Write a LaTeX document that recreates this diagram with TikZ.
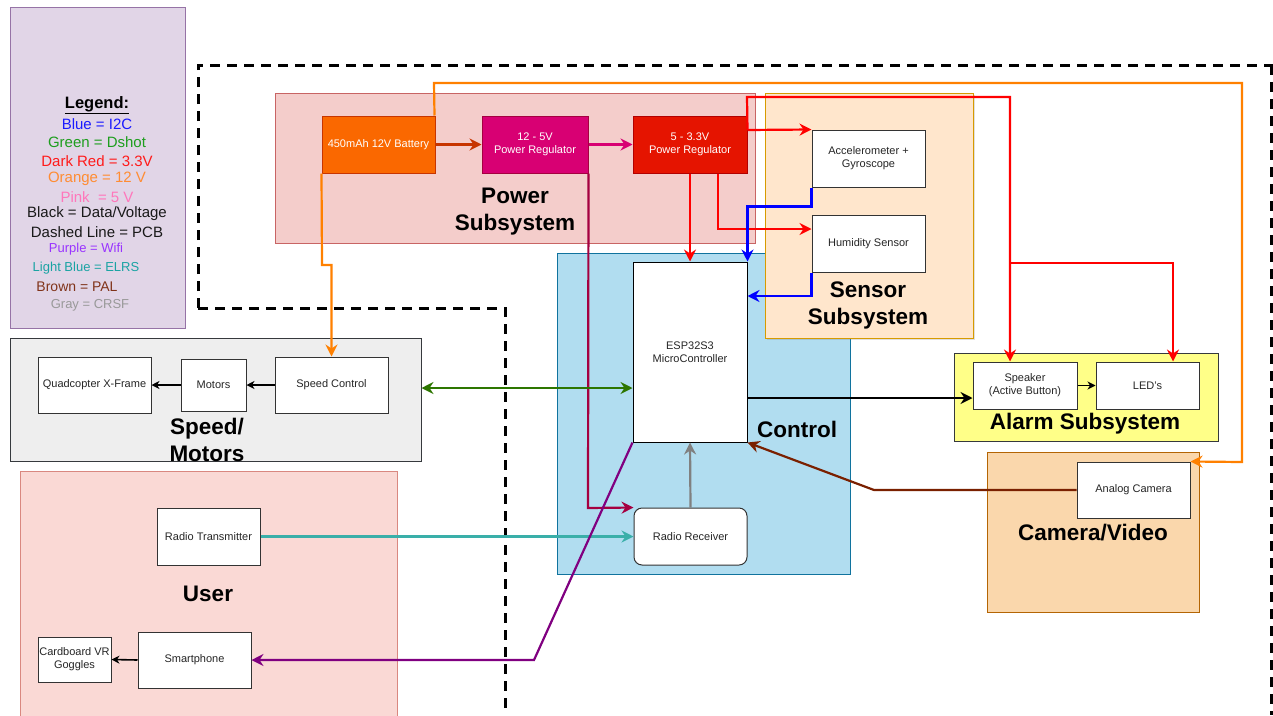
\documentclass[tikz,border=0pt]{standalone}
\usepackage{fontspec}
\setmainfont{Liberation Sans}
\usetikzlibrary{arrows.meta,shadows}
\definecolor{legfill}{HTML}{E1D5E7}\definecolor{legdraw}{HTML}{9673A6}
\definecolor{powfill}{HTML}{F4CDCB}\definecolor{powdraw}{HTML}{C86464}
\definecolor{senfill}{HTML}{FFE6CC}\definecolor{sendraw}{HTML}{D79B00}
\definecolor{ctlfill}{HTML}{B1DDF0}\definecolor{ctldraw}{HTML}{10739E}
\definecolor{spdfill}{HTML}{EEEEEE}\definecolor{spddraw}{HTML}{36393D}
\definecolor{usrfill}{HTML}{FAD9D5}\definecolor{usrdraw}{HTML}{D98880}
\definecolor{almfill}{HTML}{FFFF88}\definecolor{almdraw}{HTML}{36393D}
\definecolor{camfill}{HTML}{FAD7AC}\definecolor{camdraw}{HTML}{B46504}
\definecolor{batfill}{HTML}{FA6800}\definecolor{batdraw}{HTML}{C73500}
\definecolor{r5fill}{HTML}{D80073}\definecolor{r5draw}{HTML}{A50040}
\definecolor{r3fill}{HTML}{E51400}\definecolor{r3draw}{HTML}{B20000}
\definecolor{cOrange}{HTML}{FF8000}\definecolor{cRed}{HTML}{FF0000}
\definecolor{cBlue}{HTML}{0000FF}\definecolor{cGreen}{HTML}{2D7600}
\definecolor{cPurple}{HTML}{800080}\definecolor{cTeal}{HTML}{3AAFA9}
\definecolor{cBrown}{HTML}{7A2000}\definecolor{cGray}{HTML}{808080}
\definecolor{cCrimson}{HTML}{A50040}\definecolor{cPinkLine}{HTML}{D80073}
\definecolor{tBlue}{HTML}{1A1AFF}\definecolor{tGreen}{HTML}{1E9E1E}
\definecolor{tRed}{HTML}{FF1A1A}\definecolor{tOrange}{HTML}{FF8C33}
\definecolor{tPink}{HTML}{FF77BB}\definecolor{tPurple}{HTML}{9933FF}
\definecolor{tTeal}{HTML}{1AA3A3}\definecolor{tBrown}{HTML}{803319}
\definecolor{tGray}{HTML}{999999}
\begin{document}
\begin{tikzpicture}[x=1pt,y=-1pt,
  box/.style={draw=black!80, fill=white, line width=1pt, inner sep=1pt, align=center,
    font=\fontsize{11}{13}\selectfont, text=black!85},
  pbox/.style={box, text=white},
  grp/.style={line width=1pt, inner sep=0pt},
  lab/.style={font=\fontsize{22.5}{27}\selectfont\bfseries, align=center},
  leg/.style={font=\fontsize{15}{18}\selectfont},
  conn/.style={line width=2.2pt, -{Stealth[length=12pt,width=12pt,inset=4pt]}},
  thin/.style={line width=1.6pt, -{Stealth[length=8pt,width=8pt,inset=2.5pt]}},
  pcb/.style={line width=3pt, dash pattern=on 10pt off 7pt}]
\useasboundingbox (0,0) rectangle (1273,715);
\fill[white] (0,0) rectangle (1273,715);

% legend
\node[grp, draw=legdraw, fill=legfill, minimum width=175pt, minimum height=321pt] (legend) at (97.5,167.5) {};
\node[font=\fontsize{16.5}{18}\selectfont\bfseries] (lgt) at (97,105) {\underline{Legend:}};
\node[leg, text=tBlue] (l1) at (97,124) {Blue = I2C};
\node[leg, text=tGreen] (l2) at (97,142) {Green = Dshot};
\node[leg, text=tRed] (l3) at (97,161) {Dark Red = 3.3V};
\node[leg, text=tOrange] (l4) at (97,179) {Orange = 12 V};
\node[leg, text=tPink] (l5) at (97,197) {Pink\ \ = 5 V};
\node[leg, text=black!90] (l6) at (97,214) {Black = Data/Voltage};
\node[leg, text=black!90] (l7) at (97,232) {Dashed Line = PCB};
\node[leg, font=\fontsize{13}{15}\selectfont, text=tPurple] (l8) at (86,249) {Purple = Wifi};
\node[leg, font=\fontsize{13}{15}\selectfont, text=tTeal] (l9) at (86,268) {Light Blue = ELRS};
\node[leg, font=\fontsize{14}{16}\selectfont, text=tBrown] (l10) at (77,287) {Brown = PAL};
\node[leg, font=\fontsize{13}{15}\selectfont, text=tGray] (l11) at (90,305) {Gray = CRSF};

% PCB dashed outline
\draw[pcb] (198,308) -- (198,65) -- (1273,65);
\draw[pcb] (1271,65) -- (1271,715);
\draw[pcb] (198,308) -- (505,308) -- (505,715);

% groups
\node[grp, draw=powdraw, fill=powfill, minimum width=480pt, minimum height=150pt] (power) at (515,168) {};
\node[grp, draw=ctldraw, fill=ctlfill, minimum width=293pt, minimum height=321pt] (control) at (703.5,413.5) {};
\node[grp, draw=sendraw, fill=senfill, minimum width=208pt, minimum height=245pt,
  drop shadow={shadow xshift=2pt, shadow yshift=-2pt, opacity=0.25}] (sensor) at (869,215.5) {};
\node[grp, draw=spddraw, fill=spdfill, minimum width=411pt, minimum height=123pt] (speedgrp) at (215.5,399.5) {};
\node[grp, draw=usrdraw, fill=usrfill, minimum width=377pt, minimum height=260pt] (user) at (208.5,601) {};
\node[grp, draw=almdraw, fill=almfill, minimum width=264pt, minimum height=88pt] (alarm) at (1086,397) {};
\node[grp, draw=camdraw, fill=camfill, minimum width=212pt, minimum height=160pt] (camgrp) at (1093,532) {};

% group labels
\node[lab] (powlab) at (515,211.5) {Power\\Subsystem};
\node[lab] (senlab) at (868,305.5) {Sensor\\Subsystem};
\node[lab] (ctllab) at (797,429) {Control};
\node[lab] (spdlab) at (207,440) {Speed/\\Motors};
\node[lab] (usrlab) at (208,594) {User};
\node[lab] (almlab) at (1085,424) {Alarm Subsystem};
\node[lab] (camlab) at (1093,533) {Camera/Video};

% component boxes
\node[pbox, draw=batdraw, fill=batfill, minimum width=113pt, minimum height=57pt] (batt) at (378.5,144.5) {450mAh 12V Battery};
\node[pbox, draw=r5draw, fill=r5fill, minimum width=106pt, minimum height=57pt] (reg5) at (535,144.5) {12 - 5V\\Power Regulator};
\node[pbox, draw=r3draw, fill=r3fill, minimum width=114pt, minimum height=57pt] (reg33) at (690,144.5) {5 - 3.3V\\Power Regulator};
\node[box, minimum width=113pt, minimum height=57pt] (acc) at (868.5,158.5) {Accelerometer +\\Gyroscope};
\node[box, minimum width=113pt, minimum height=57pt] (hum) at (868.5,243.5) {Humidity Sensor};
\node[box, draw=black, minimum width=114pt, minimum height=180pt] (esp) at (690,352) {ESP32S3\\MicroController};
\node[box, rounded corners=8pt, minimum width=113pt, minimum height=57pt] (rx) at (690.5,536.5) {Radio Receiver};
\node[box, minimum width=113pt, minimum height=56pt] (quad) at (94.5,385) {Quadcopter X-Frame};
\node[box, minimum width=65pt, minimum height=52pt] (motors) at (213.5,385) {Motors};
\node[box, minimum width=113pt, minimum height=56pt] (speed) at (331.5,385) {Speed Control};
\node[box, minimum width=103pt, minimum height=57pt] (tx) at (208.5,536.5) {Radio Transmitter};
\node[box, minimum width=73pt, minimum height=45pt] (goggles) at (74.5,659.5) {Cardboard VR\\Goggles};
\node[box, minimum width=113pt, minimum height=56pt] (phone) at (194.5,660) {Smartphone};
\node[box, minimum width=104pt, minimum height=47pt] (speaker) at (1025,385.5) {Speaker\\(Active Button)};
\node[box, minimum width=103pt, minimum height=47pt] (led) at (1147.5,385.5) {LED's};
\node[box, minimum width=113pt, minimum height=56pt] (cam) at (1133.5,490) {Analog Camera};

% helper coordinates
\coordinate (gy) at (0,388);
\coordinate (by) at (0,398);
\coordinate (ry) at (0,130);
\coordinate (hy) at (0,229);
\coordinate (ey) at (0,296);

% connectors
\draw[conn, batdraw] (batt.east) -- (reg5.west);
\draw[conn, cPinkLine] (reg5.east) -- (reg33.west);
\draw[conn, cOrange] ([xshift=-1pt]batt.north east) -- (434,83) -- (1242,83) -- (1242,462) -- (cam.north east);
\draw[conn, cOrange] (batt.south west) -- (322,265) -- (331.5,265) -- (speed.north);
\draw[conn, cCrimson] (reg5.south east) -- (588,508) -- (rx.north west);
\draw[conn, cRed] (reg33.east |- ry) -- (acc.north west);
\draw[conn, cRed] (reg33.east |- ry) -- (747,97) -- (1010,97) -- ([xshift=-15pt]speaker.north);
\draw[conn, cRed] (1010,263) -- (1173,263) -- ([xshift=25.5pt]led.north);
\draw[conn, cRed] (reg33.south) -- (esp.north);
\draw[conn, cRed] ([xshift=28pt]reg33.south) |- (hum.west |- hy);
\draw[conn, cBlue] (acc.south west) -- ++(0,19) -| (esp.north east);
\draw[conn, cBlue] (hum.south west) |- (esp.east |- ey);
\draw[line width=2.2pt, cGreen, {Stealth[length=12pt,width=12pt,inset=4pt]}-{Stealth[length=12pt,width=12pt,inset=4pt]}] (speedgrp.east |- gy) -- (esp.west |- gy);
\draw[conn, black] (esp.east |- by) -- (speaker.west |- by);
\draw[thin, black] (speaker.east) -- (led.west);
\draw[thin, black] (speed.west) -- (motors.east);
\draw[thin, black] (motors.west) -- (quad.east);
\draw[thin, black] (phone.west) -- (goggles.east);
\draw[conn, cGray] (rx.north) -- (esp.south);
\draw[conn, cTeal] (tx.east) -- (rx.west);
\draw[conn, cPurple] (esp.south west) -- (534,660) -- (phone.east);
\draw[conn, cBrown] (cam.west) -- (874,490) -- (esp.south east);
\end{tikzpicture}
\end{document}
